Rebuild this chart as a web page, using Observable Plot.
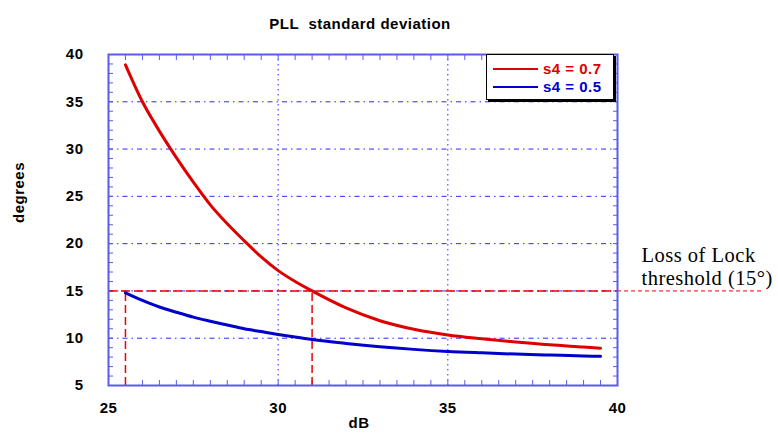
<!DOCTYPE html>
<html><head><meta charset="utf-8">
<script src="https://cdn.jsdelivr.net/npm/d3@7"></script>
<script src="https://cdn.jsdelivr.net/npm/@observablehq/plot@0.6"></script>
<style>
body{margin:0;background:#fff;}
#wrap{position:relative;width:778px;height:434px;overflow:hidden;}
#legend{position:absolute;left:486px;top:54px;width:128px;height:46px;border:1px solid #000;box-shadow:2px 2px 0 #000;background:#fff;
  font:bold 15px "Liberation Sans",Arial,sans-serif;letter-spacing:0.5px;box-sizing:border-box;padding-top:5px;}
.row{display:flex;align-items:center;height:18px;}
.sw{width:45px;margin-left:6px;height:0;border-top:2px solid;}
.lab{margin-left:5px;line-height:18px;}
</style></head>
<body><div id="wrap"></div>
<script>
// ---- data ----
const dB     = [25.5, 26, 26.5, 27, 27.5, 28, 28.5, 29, 29.5, 30, 30.5, 31, 32, 33, 34, 35, 36, 37, 38, 39, 39.5];
const s4_07  = [38.9, 35.0, 31.9, 29.1, 26.5, 24.1, 22.1, 20.3, 18.6, 17.15, 16.0, 15.0, 13.2, 11.85, 10.95, 10.35, 9.95, 9.6, 9.3, 9.07, 8.95];
const s4_05  = [14.8, 14.0, 13.3, 12.75, 12.23, 11.8, 11.4, 11.0, 10.7, 10.4, 10.12, 9.86, 9.45, 9.1, 8.82, 8.6, 8.45, 8.32, 8.22, 8.13, 8.08];
const seriesNames  = ["s4 = 0.7", "s4 = 0.5"];
const seriesColors = ["#dd0000", "#0000cc"];
const xTicks = [25, 30, 35, 40];
const yTicks = [5, 10, 15, 20, 25, 30, 35, 40];
const xGrid = [30, 35];
const yGrid = [10, 15, 20, 25, 30, 35];
const xMinor = d3.range(25, 40.001, 0.5);
const yMinor = d3.range(5, 40.001, 1);
const threshold = 15;
const lockDB = [25.5, 31];
const xDomain = [25, 40], yDomain = [5, 40];
const titleText = "PLL\u00a0 standard deviation";
const xLabel = "dB", yLabel = "degrees";
const annotation = "Loss of Lock\nthreshold (15°)";
const thresholdExtent = 44.3;

const rows = [];
dB.forEach((x, i) => {
  rows.push({dB: x, deg: s4_07[i], series: seriesNames[0]});
  rows.push({dB: x, deg: s4_05[i], series: seriesNames[1]});
});

const frameColor = "#5a5af0";
const gridColor = "#2a2aff";
const font = '"Liberation Sans", Arial, sans-serif';

const chart = Plot.plot({
  width: 778, height: 434,
  marginLeft: 108, marginRight: 161, marginTop: 54, marginBottom: 49,
  style: {fontFamily: font, fontSize: "15px", fontWeight: "bold", background: "#fff", overflow: "visible", letterSpacing: "0.5px"},
  x: {domain: xDomain, label: null},
  y: {domain: yDomain, label: null},
  color: {domain: seriesNames, range: seriesColors},
  marks: [
    Plot.gridX(xGrid, {stroke: gridColor, strokeOpacity: 1, strokeDasharray: "1.5,3.5"}),
    Plot.gridY(yGrid, {stroke: gridColor, strokeOpacity: 1, strokeDasharray: "5,4,1.5,4"}),
    Plot.axisX(xMinor, {anchor: "bottom", tickSize: -5, tickFormat: () => "", label: null, stroke: frameColor}),
    Plot.axisX(xMinor, {anchor: "top", tickSize: -5, tickFormat: () => "", label: null, stroke: frameColor}),
    Plot.axisY(yMinor, {anchor: "left", tickSize: -5, tickFormat: () => "", label: null, stroke: frameColor}),
    Plot.axisY(yMinor, {anchor: "right", tickSize: -5, tickFormat: () => "", label: null, stroke: frameColor}),
    Plot.axisX(xTicks, {anchor: "bottom", tickSize: 0, tickPadding: 17, label: null, fill: "#000"}),
    Plot.axisY(yTicks, {anchor: "left", tickSize: 0, tickPadding: 25, label: null, fill: "#000"}),
    Plot.ruleY([threshold], {x1: xDomain[0], x2: xDomain[1], stroke: "#ee0000", strokeWidth: 1.5, strokeDasharray: "9,4"}),
    Plot.ruleY([threshold], {x1: xDomain[1], x2: thresholdExtent, stroke: "#ee0000", strokeWidth: 1, strokeDasharray: "4,3"}),
    Plot.ruleX(lockDB, {y1: yDomain[0], y2: threshold, stroke: "#ee0000", strokeWidth: 1.5, strokeDasharray: "8,4"}),
    Plot.line(rows, {x: "dB", y: "deg", z: "series", stroke: "series", strokeWidth: 3, curve: "monotone-x"}),
    Plot.frame({stroke: frameColor, strokeWidth: 2}),
    Plot.text([titleText], {frameAnchor: "top", dy: -36, dx: -3, fontSize: 15, fill: "#000", letterSpacing: "1px"}),
    Plot.text([xLabel], {frameAnchor: "bottom", dy: 42, dx: -4, fontSize: 15, fill: "#000"}),
    Plot.text([yLabel], {frameAnchor: "left", rotate: -90, dx: -89, dy: 3, fontSize: 15, fill: "#000"}),
    Plot.text([annotation], {y: [threshold], frameAnchor: "right", dx: 24, dy: -6, textAnchor: "start", lineAnchor: "bottom",
      fontFamily: '"Liberation Serif", "Times New Roman", serif', fontSize: 20.5, fontWeight: "normal", lineHeight: 1.1, fill: "#000", letterSpacing: "0px"})
  ]
});
const wrap = document.getElementById("wrap");
wrap.appendChild(chart);

const legend = document.createElement("div");
legend.id = "legend";
seriesNames.forEach((name, i) => {
  const r = document.createElement("div");
  r.className = "row";
  const sw = document.createElement("span");
  sw.className = "sw"; sw.style.borderTopColor = seriesColors[i];
  const lab = document.createElement("span");
  lab.className = "lab"; lab.style.color = seriesColors[i]; lab.textContent = name;
  r.appendChild(sw); r.appendChild(lab);
  legend.appendChild(r);
});
wrap.appendChild(legend);
</script>
</body></html>
